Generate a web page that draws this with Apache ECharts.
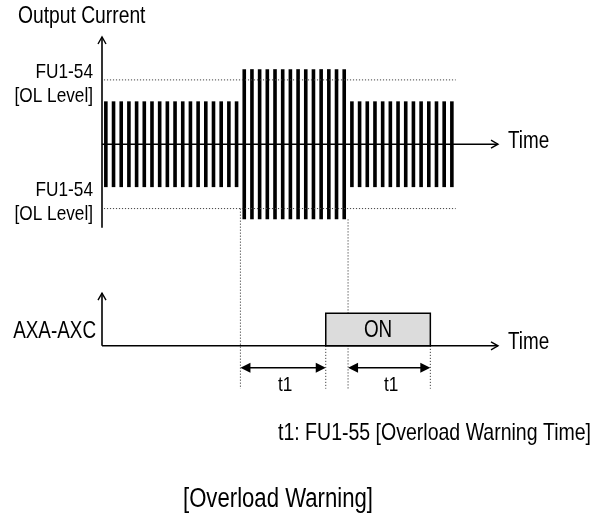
<!DOCTYPE html>
<html><head><meta charset="utf-8">
<script src="https://cdn.jsdelivr.net/npm/echarts@6/dist/echarts.min.js"></script>
<style>html,body{margin:0;padding:0;background:#fff}#c{width:606px;height:518px}</style>
</head><body><div id="c"></div>
<script>
// ---- values ----
// amplitude of each output-current pulse, one per time step
const currentAmplitude = [
  100,100,100,100,100,100,100,100,100,100,100,100,100,100,100,100,100,100,
  175,175,175,175,175,175,175,175,175,175,175,175,175,175,
  100,100,100,100,100,100,100,100,100,100,100,100,100,100
];
const olLevels = [150, -150];             // FU1-54 [OL Level]
const olLineSpan = [-0.25, 45.5];
const overloadMarks = [17.5, 31.5];       // overload start / end times
const overloadMarkTops = [-150, -175];
const relayOn = [28.6, 42.2];             // AXA-AXC ON interval
const relayLevels = [-470, -394];         // off level, on level
const t1Spans = [[17.5, 28.6], [31.5, 42.2]];
const t1Level = -521;
const guideBottom = -570;
const timeRange = [-0.5, 51];
const currentAxisRange = [-195, 250];
const relayAxisTop = -347;

const FONT = "'Liberation Sans',Arial,sans-serif";
const NARROW = 0.82;

const chart = echarts.init(document.getElementById('c'), null, {renderer: 'canvas'});

function chevronSeg(params, api) {
  const p0 = api.coord([api.value(0), api.value(1)]);
  const p1 = api.coord([api.value(2), api.value(3)]);
  const dx = p1[0] - p0[0], dy = p1[1] - p0[1], L = Math.hypot(dx, dy);
  const ux = dx / L, uy = dy / L, len = 7, hw = 4;
  const a = [p1[0] - ux * len - uy * hw, p1[1] - uy * len + ux * hw];
  const b = [p1[0] - ux * len + uy * hw, p1[1] - uy * len - ux * hw];
  return {type: 'group', children: [
    {type: 'line', shape: {x1: p0[0], y1: p0[1], x2: p1[0], y2: p1[1]}, style: {stroke: '#000', lineWidth: 1.6}},
    {type: 'polyline', shape: {points: [a, p1, b]}, style: {stroke: '#000', lineWidth: 1.4, fill: 'none'}}
  ]};
}

const axisSegs = [
  [timeRange[0], currentAxisRange[0], timeRange[0], currentAxisRange[1]],
  [timeRange[0], 0, timeRange[1], 0],
  [timeRange[0], relayLevels[0], timeRange[0], relayAxisTop],
  [timeRange[0], relayLevels[0], timeRange[1], relayLevels[0]]
];

const dottedSegs = [];
olLevels.forEach(v => dottedSegs.push([olLineSpan[0], v, olLineSpan[1], v]));
overloadMarks.forEach((t, i) => dottedSegs.push([t, overloadMarkTops[i], t, guideBottom]));
relayOn.forEach(t => dottedSegs.push([t, relayLevels[0], t, guideBottom]));

function label(text, x, y, size, align) {
  return {type: 'text', x: x, y: y, scaleX: NARROW,
    style: {text: text, fontSize: size, fontFamily: FONT, fill: '#000', align: align, verticalAlign: 'middle'}};
}

const option = {
  animation: false,
  backgroundColor: '#fff',
  grid: {left: 102, top: 37, width: 396, height: 356},
  xAxis: {type: 'value', min: timeRange[0], max: timeRange[1], show: false},
  yAxis: {type: 'value', min: -580, max: 250, show: false},
  series: [
    {
      type: 'custom', name: 'Output Current',
      data: currentAmplitude.map((a, i) => [i, a]),
      renderItem(params, api) {
        const t = api.value(0), a = api.value(1);
        const top = api.coord([t, a]), bot = api.coord([t, -a]);
        const w = api.size([0.47, 0])[0];
        return {type: 'rect', shape: {x: top[0] - w / 2, y: top[1], width: w, height: bot[1] - top[1]},
          style: {fill: '#000'}};
      }
    },
    {
      type: 'custom', name: 'dotted', data: dottedSegs,
      renderItem(params, api) {
        const p0 = api.coord([api.value(0), api.value(1)]);
        const p1 = api.coord([api.value(2), api.value(3)]);
        return {type: 'line', shape: {x1: p0[0], y1: p0[1], x2: p1[0], y2: p1[1]},
          style: {stroke: '#444', lineWidth: 1, lineDash: [1.2, 1.8]}};
      }
    },
    {
      type: 'custom', name: 'relay', data: [[relayOn[0], relayOn[1], relayLevels[0], relayLevels[1]]],
      renderItem(params, api) {
        const p0 = api.coord([api.value(0), api.value(3)]);
        const p1 = api.coord([api.value(1), api.value(2)]);
        return {type: 'group', children: [
          {type: 'rect', shape: {x: p0[0], y: p0[1], width: p1[0] - p0[0], height: p1[1] - p0[1]},
            style: {fill: '#dcdcdc', stroke: '#000', lineWidth: 1.5}},
          label('ON', (p0[0] + p1[0]) / 2, (p0[1] + p1[1]) / 2 + 1, 23, 'center')
        ]};
      }
    },
    {
      type: 'custom', name: 'axes', data: axisSegs, renderItem: chevronSeg
    },
    {
      type: 'custom', name: 't1', data: t1Spans.map(s => [s[0], s[1], t1Level]),
      renderItem(params, api) {
        const p0 = api.coord([api.value(0), api.value(2)]);
        const p1 = api.coord([api.value(1), api.value(2)]);
        const len = 10, hw = 5, y = p0[1];
        return {type: 'group', children: [
          {type: 'line', shape: {x1: p0[0] + len - 1, y1: y, x2: p1[0] - len + 1, y2: y}, style: {stroke: '#000', lineWidth: 1.5}},
          {type: 'polygon', shape: {points: [[p0[0], y], [p0[0] + len, y - hw], [p0[0] + len, y + hw]]}, style: {fill: '#000'}},
          {type: 'polygon', shape: {points: [[p1[0], y], [p1[0] - len, y - hw], [p1[0] - len, y + hw]]}, style: {fill: '#000'}},
          label('t1', (p0[0] + p1[0]) / 2 + 2, y + 18, 21, 'center')
        ]};
      }
    }
  ],
  graphic: [
    label('Output Current', 18, 17, 23.5, 'left'),
    label('FU1-54', 93, 72, 21, 'right'),
    label('[OL Level]', 93, 96, 21, 'right'),
    label('FU1-54', 93, 190, 21, 'right'),
    label('[OL Level]', 93, 214, 21, 'right'),
    label('Time', 508, 142, 23, 'left'),
    label('AXA-AXC', 96, 332, 23, 'right'),
    label('Time', 508, 343, 23, 'left'),
    label('t1: FU1-55 [Overload Warning Time]', 278, 433, 23.8, 'left'),
    label('[Overload Warning]', 183, 500, 27, 'left')
  ]
};
chart.setOption(option);
</script>
</body></html>
